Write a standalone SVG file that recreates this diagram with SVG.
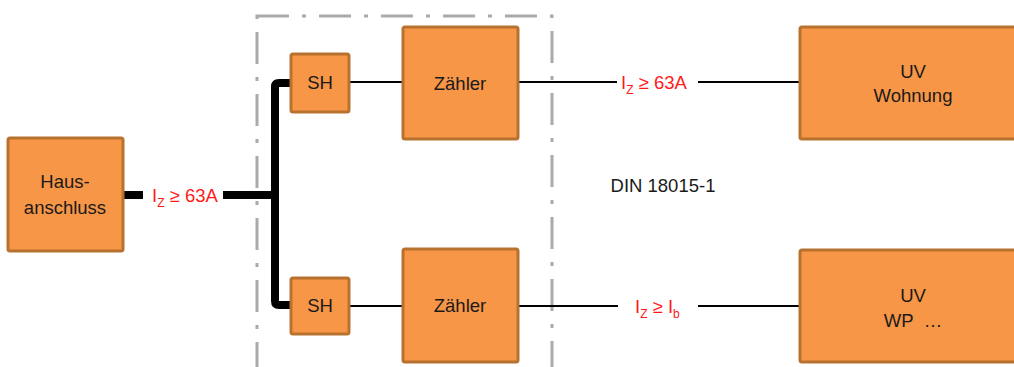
<svg xmlns="http://www.w3.org/2000/svg" width="1014" height="367" viewBox="0 0 1014 367">
<style>
.box{fill:#F79646;stroke:#B8722F;stroke-width:3}
.lbl{font-family:"Liberation Sans",Arial,sans-serif;font-size:18.5px;fill:#1a1a1a;text-anchor:middle}
.red{font-family:"Liberation Sans",Arial,sans-serif;font-size:18.5px;fill:#FF1A1A}
.sub{font-size:12px}
.thin{stroke:#000;stroke-width:2;fill:none}
.thick{stroke:#000;stroke-width:8;fill:none}
</style>
<rect width="1014" height="367" fill="#fff"/>
<g id="frame">
<rect x="257" y="16" width="295" height="380" fill="none" stroke="#AAAAAA" stroke-width="3" stroke-dasharray="32 13 4 13"/>
</g>
<g id="connectors">
<line class="thick" x1="123" y1="195" x2="143" y2="195"/>
<line class="thick" x1="223" y1="195" x2="275" y2="195"/>
<path class="thick" d="M290 83 H279 Q275 83 275 87 V301 Q275 305 279 305 H290"/>
<line class="thin" x1="349" y1="82" x2="403" y2="82"/>
<line class="thin" x1="349" y1="306" x2="403" y2="306"/>
<line class="thin" x1="518" y1="82" x2="617" y2="82"/>
<line class="thin" x1="698" y1="82" x2="800" y2="82"/>
<line class="thin" x1="518" y1="306" x2="618" y2="306"/>
<line class="thin" x1="698" y1="306" x2="800" y2="306"/>
</g>
<g id="labels">
<text class="red" x="152" y="202">I<tspan class="sub" dy="5">Z</tspan><tspan dy="-5"> ≥ 63A</tspan></text>
<text class="red" x="621" y="89">I<tspan class="sub" dy="5">Z</tspan><tspan dy="-5"> ≥ 63A</tspan></text>
<text class="red" x="635" y="313">I<tspan class="sub" dy="5">Z</tspan><tspan dy="-5"> ≥ I</tspan><tspan class="sub" dy="5">b</tspan></text>
<text class="lbl" x="663" y="192">DIN 18015-1</text>
</g>
<g id="hausanschluss">
<rect class="box" x="8" y="138" width="115" height="113" rx="2"/>
<text class="lbl" x="65" y="188">Haus-</text>
<text class="lbl" x="65" y="214">anschluss</text>
</g>
<g id="sh1">
<rect class="box" x="291" y="54" width="58" height="58" rx="2"/>
<text class="lbl" x="320" y="89">SH</text>
</g>
<g id="sh2">
<rect class="box" x="291" y="278" width="58" height="56" rx="2"/>
<text class="lbl" x="320" y="312">SH</text>
</g>
<g id="zaehler1">
<rect class="box" x="403" y="27" width="115" height="112" rx="2"/>
<text class="lbl" x="460" y="90">Zähler</text>
</g>
<g id="zaehler2">
<rect class="box" x="403" y="249" width="115" height="113" rx="2"/>
<text class="lbl" x="460" y="312">Zähler</text>
</g>
<g id="uv_wohnung">
<rect class="box" x="800" y="27" width="230" height="112" rx="2"/>
<text class="lbl" x="913" y="78">UV</text>
<text class="lbl" x="913" y="102">Wohnung</text>
</g>
<g id="uv_wp">
<rect class="box" x="800" y="250" width="230" height="112" rx="2"/>
<text class="lbl" x="913" y="302">UV</text>
<text class="lbl" x="913" y="327">WP&#160; …</text>
</g>
</svg>
